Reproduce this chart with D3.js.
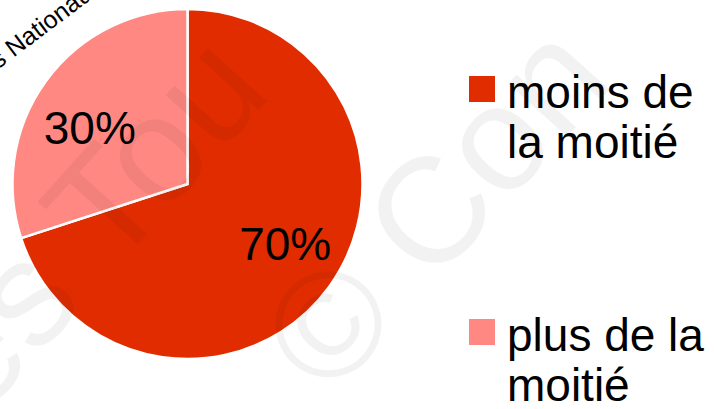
<!DOCTYPE html>
<html>
<head>
<meta charset="utf-8">
<script src="https://cdn.jsdelivr.net/npm/d3@7"></script>
<style>
  body { margin: 0; background: #fff; }
  text { font-family: "Liberation Sans", Arial, sans-serif; }
</style>
</head>
<body>
<div id="chart"></div>
<script>
const categories = ["moins de la moitié", "plus de la moitié"];
const values = [70, 30];
const labels = ["70%", "30%"];
const legendLines = [["moins de", "la moitié"], ["plus de la", "moitié"]];
const colors = ["#e12c00", "#ff8882"];

const width = 714;
const height = 409;
const cx = 187.5, cy = 184, radius = 175;

const svg = d3.select("#chart").append("svg")
  .attr("width", width)
  .attr("height", height);

const color = d3.scaleOrdinal().domain(categories).range(colors);

const pie = d3.pie().sort(null).value(d => d.value);
const arcs = pie(categories.map((c, i) => ({ cat: c, value: values[i], label: labels[i] })));

const arc = d3.arc().innerRadius(0).outerRadius(radius);
const labelArc = d3.arc().innerRadius(radius * 0.69).outerRadius(radius * 0.69);

const g = svg.append("g").attr("transform", `translate(${cx}, ${cy})`);

g.selectAll("path")
  .data(arcs)
  .enter().append("path")
  .attr("d", arc)
  .attr("fill", d => color(d.data.cat))
  .attr("stroke", "#fff")
  .attr("stroke-width", 2.5);

g.selectAll("text.pct")
  .data(arcs)
  .enter().append("text")
  .attr("class", "pct")
  .attr("transform", d => {
    const [x, y] = labelArc.centroid(d);
    return `translate(${x}, ${y * 0.82 + 18})`;
  })
  .attr("text-anchor", "middle")
  .attr("font-size", 46)
  .attr("fill", "#000")
  .text(d => d.data.label);

// source text in the corner, cut off by the frame
const src = svg.append("g").attr("transform", "translate(8, 62) rotate(-37)");
src.append("text").attr("font-size", 25).attr("text-anchor", "end").text("Examens");
src.append("text").attr("font-size", 25).attr("x", 7).text("Nationaux");

// legend
const legend = svg.append("g").attr("transform", "translate(469, 76)");
categories.forEach((c, i) => {
  const row = legend.append("g").attr("transform", `translate(0, ${i * 243})`);
  row.append("rect")
    .attr("width", 26)
    .attr("height", 26)
    .attr("fill", color(c));
  legendLines[i].forEach((line, j) => {
    row.append("text")
      .attr("x", 38)
      .attr("y", 32 + j * 50)
      .attr("font-size", 46)
      .attr("fill", "#000")
      .text(line);
  });
});

// faint watermark
const wm = svg.append("g")
  .attr("fill", "#000")
  .attr("fill-opacity", 0.05)
  .attr("font-size", 150);
wm.append("text").attr("transform", "translate(-20, 420) rotate(-48)").text("es Tou");
wm.append("text").attr("transform", "translate(330, 400) rotate(-48)").text("© Con");
</script>
</body>
</html>
